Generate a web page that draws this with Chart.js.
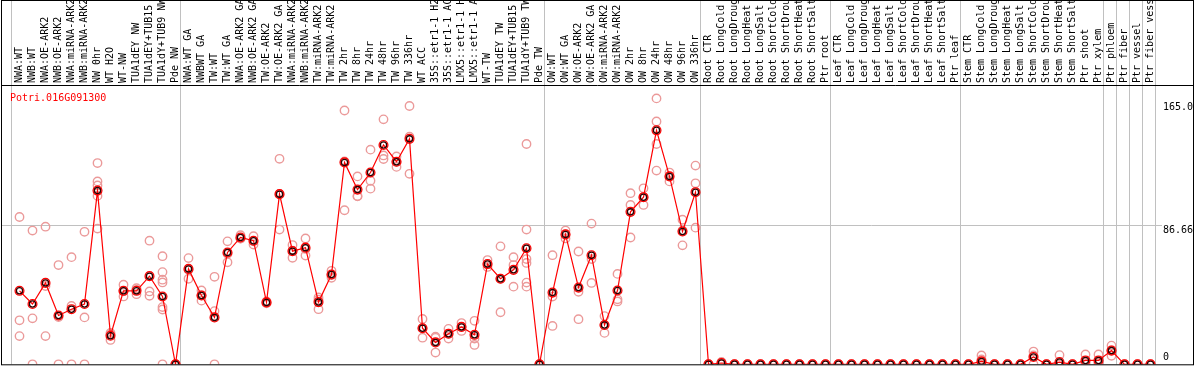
<!DOCTYPE html>
<html>
<head>
<meta charset="utf-8">
<title>Potri.016G091300</title>
<script src="https://cdn.jsdelivr.net/npm/chart.js@4.4.1/dist/chart.umd.min.js"></script>
<style>
    body { margin: 0; background: #fff; }
    #wrap { width: 1194px; height: 370px; }
</style>
</head>
<body>
<div id="wrap"><canvas id="chart" width="1194" height="370"></canvas></div>
<script>
const geneName = "Potri.016G091300";

const categories = [
    "NWA:WT", "NWB:WT", "NWA:OE-ARK2", "NWB:OE-ARK2", "NWA:miRNA-ARK2", "NWB:miRNA-ARK2",
    "NW 0hr", "WT H2O", "WT-NW", "TUA1dEY NW", "TUA1dEY+TUB15 NW", "TUA1dY+TUB9 NW", "Pde NW",
    "NWA:WT GA", "NWBWT GA", "TW:WT", "TW:WT GA", "NWA:OE-ARK2 GA", "NWB:OE-ARK2 GA",
    "TW:OE-ARK2", "TW:OE-ARK2 GA", "NWA:miRNA-ARK2 GA", "NWB:miRNA-ARK2 GA", "TW:miRNA-ARK2",
    "TW:miRNA-ARK2", "TW 2hr", "TW 8hr", "TW 24hr", "TW 48hr", "TW 96hr", "TW 336hr",
    "WT ACC", "35S::etr1-1 H2O", "35S::etr1-1 ACC", "LMX5::etr1-1 H2O", "LMX5::etr1-1 ACC",
    "WT-TW", "TUA1dEY TW", "TUA1dEY+TUB15 TW", "TUA1dY+TUB9 TW", "Pde TW",
    "OW:WT", "OW:WT GA", "OW:OE-ARK2", "OW:OE-ARK2 GA", "OW:miRNA-ARK2", "OW:miRNA-ARK2",
    "OW 2hr", "OW 8hr", "OW 24hr", "OW 48hr", "OW 96hr", "OW 336hr",
    "Root CTR", "Root LongCold", "Root LongDrought", "Root LongHeat", "Root LongSalt",
    "Root ShortCold", "Root ShortDrought", "Root ShortHeat", "Root ShortSalt", "Ptr root",
    "Leaf CTR", "Leaf LongCold", "Leaf LongDrought", "Leaf LongHeat", "Leaf LongSalt",
    "Leaf ShortCold", "Leaf ShortDrought", "Leaf ShortHeat", "Leaf ShortSalt", "Ptr leaf",
    "Stem CTR", "Stem LongCold", "Stem LongDrought", "Stem LongHeat", "Stem LongSalt",
    "Stem ShortCold", "Stem ShortDrought", "Stem ShortHeat", "Stem ShortSalt", "Ptr shoot",
    "Ptr xylem", "Ptr phloem", "Ptr fiber", "Ptr vessel", "Ptr fiber vessel"
];

const means = [
    45.6, 37.4, 50.5, 30.3, 34.2, 37.4, 107.8, 17.7, 45.6, 45.6, 54.7, 42.1, 0,
    59.2, 42.7, 29.1, 69.4, 78.7, 76.7, 38.4, 105.6, 70.2, 72.4, 38.6, 55.7,
    125.3, 108.4, 119.0, 136.1, 125.7, 139.9, 22.4, 13.6, 19.0, 23.2, 18.3,
    62.2, 53.1, 58.6, 72.0, 0,
    44.5, 80.6, 47.6, 67.7, 24.4, 45.8, 94.6, 103.7, 145.2, 116.6, 82.4, 106.8,
    0, 0.8, 0, 0, 0, 0, 0, 0, 0, 0,
    0, 0, 0, 0, 0, 0, 0, 0, 0, 0,
    0, 1.8, 0, 0, 0, 4.5, 0, 1.4, 0, 2.4,
    2.4, 8.5, 0, 0, 0
];

const replicates = [
    [91.4, 27.3, 17.5], [83.0, 28.5, 0], [85.4, 48.6, 17.5], [61.6, 29.3, 0],
    [66.5, 36.2, 0], [82.2, 29.1, 0], [124.9, 113.5, 111.0, 104.5, 84.2],
    [19.5, 18.7, 15.1], [49.4, 45.3, 42.1], [47.2, 46.1, 43.5], [76.7, 45.2, 42.5],
    [67.1, 57.2, 52.5, 50.8, 35.5, 34.0, 0], [0, 0, 0],
    [65.9, 58.6, 53.1], [45.8, 42.8, 39.5], [54.3, 33.0, 0], [76.3, 68.6, 63.3],
    [80.1, 78.1, 78.0], [79.5, 76.3, 74.3], [39.0, 38.4, 37.8], [127.5, 105.7, 83.6],
    [74.0, 70.5, 66.1], [78.1, 71.6, 67.5], [41.5, 40.1, 34.2], [58.0, 55.4, 53.7],
    [157.5, 125.9, 95.6], [116.6, 104.4, 104.2], [133.2, 113.9, 109.0],
    [152.0, 129.6, 127.4], [129.0, 125.6, 122.5], [160.3, 141.2, 118.2],
    [28.1, 22.6, 16.5], [17.1, 16.4, 7.3], [22.0, 19.0, 16.0], [25.6, 23.2, 20.7],
    [27.0, 16.0, 12.0], [64.7, 62.2, 60.4], [73.2, 53.1, 32.3], [66.5, 61.6, 48.2],
    [136.7, 83.6, 65.3, 62.9, 50.7, 48.2], [0, 0, 0],
    [67.7, 42.0, 23.8], [83.0, 80.6, 78.1], [70.0, 45.0, 28.0], [87.3, 65.3, 50.5],
    [29.9, 24.4, 19.5], [56.1, 40.3, 39.0], [106.2, 98.9, 78.7], [109.2, 103.7, 98.9],
    [165.0, 150.7, 136.7, 120.2], [119.0, 116.6, 113.5], [89.7, 83.0, 73.8],
    [123.3, 112.3, 84.8],
    [0, 0, 0], [1.5, 0.8, 0], [0, 0, 0], [0, 0, 0], [0, 0, 0],
    [0, 0, 0], [0, 0, 0], [0, 0, 0], [0, 0, 0], [0, 0, 0],
    [0, 0, 0], [0, 0, 0], [0, 0, 0], [0, 0, 0], [0, 0, 0],
    [0, 0, 0], [0, 0, 0], [0, 0, 0], [0, 0, 0], [0, 0, 0],
    [0, 0, 0], [5.5, 3.0, 0], [0, 0, 0], [0, 0, 0], [0, 0, 0],
    [7.9, 5.5, 0], [0, 0, 0], [5.7, 0, 0], [0, 0, 0], [6.1, 1.0, 0],
    [6.1, 1.0, 0], [11.6, 8.6, 5.3], [0, 0, 0], [0, 0, 0], [0, 0, 0]
];

// columns after which a grey separator is drawn
const groupBreaks = [0, 13, 41, 53, 63, 73, 84, 85, 86, 87, 88];

const yMax = 173.32;
const yTicks = [
    { value: 165.0, text: "165.0", shift: 4, base: "top" },
    { value: 86.66, text: "86.66", shift: 1, base: "top" },
    { value: 0, text: "0", shift: -4, base: "alphabetic" }
];

const monoFont = '10px "DejaVu Sans Mono", monospace';

// one dataset per replicate slot, aligned with the categories
const maxReps = Math.max(...replicates.map(r => r.length));
const repDatasets = [];
for (let j = 0; j < maxReps; j++) {
    repDatasets.push({
        label: "rep " + (j + 1),
        data: replicates.map(r => (j < r.length ? r[j] : null)),
        showLine: false,
        pointRadius: 4.2,
        pointBorderWidth: 1.4,
        pointBorderColor: "#eb9a9a",
        pointBackgroundColor: "rgba(0,0,0,0)",
        order: 2
    });
}

const frame = {
    id: "frame",
    beforeDatasetsDraw(chart) {
        const ctx = chart.ctx;
        const xs = chart.scales.x;
        const ys = chart.scales.y;
        const colW = (xs.right - xs.left) / categories.length;

        ctx.save();
        ctx.strokeStyle = "#c0c0c0";
        ctx.lineWidth = 1;
        const gy = Math.round(ys.getPixelForValue(86.66)) + 0.5;
        ctx.beginPath();
        ctx.moveTo(1, gy);
        ctx.lineTo(xs.right + 5, gy);
        groupBreaks.forEach(k => {
            const gx = Math.round(xs.left + k * colW - 2.5) + 0.5;
            ctx.moveTo(gx, 0);
            ctx.lineTo(gx, ys.bottom);
        });
        ctx.stroke();
        ctx.restore();
    },
    afterDraw(chart) {
        const ctx = chart.ctx;
        const xs = chart.scales.x;
        const ys = chart.scales.y;

        // rotated column labels in the header
        ctx.save();
        ctx.beginPath();
        ctx.rect(2, 1, chart.width - 3, ys.top - 1);
        ctx.clip();
        ctx.font = monoFont;
        ctx.fillStyle = "#000";
        ctx.textAlign = "left";
        ctx.textBaseline = "alphabetic";
        categories.forEach((label, i) => {
            ctx.save();
            ctx.translate(xs.getPixelForValue(i) + 2.5, ys.top - 2);
            ctx.rotate(-Math.PI / 2);
            ctx.fillText(label, 0, 0);
            ctx.restore();
        });
        ctx.restore();

        ctx.save();
        ctx.font = monoFont;
        ctx.fillStyle = "#ff0000";
        ctx.textBaseline = "alphabetic";
        ctx.fillText(geneName, 10, ys.top + 16);

        ctx.fillStyle = "#000";
        yTicks.forEach(t => {
            ctx.textBaseline = t.base;
            ctx.fillText(t.text, xs.right + 6, ys.getPixelForValue(t.value) + t.shift);
        });

        ctx.strokeStyle = "#000";
        ctx.lineWidth = 1;
        ctx.strokeRect(1.5, 0.5, chart.width - 2, ys.bottom);
        ctx.beginPath();
        ctx.moveTo(1, ys.top + 0.5);
        ctx.lineTo(chart.width, ys.top + 0.5);
        ctx.stroke();
        ctx.restore();
    }
};

new Chart(document.getElementById("chart"), {
    type: "line",
    data: {
        labels: categories,
        datasets: [
            {
                label: "mean ring",
                data: means,
                showLine: false,
                pointRadius: 3.1,
                pointBorderWidth: 1.3,
                pointBorderColor: "#2a0000",
                pointBackgroundColor: "rgba(0,0,0,0)",
                order: 0
            },
            {
                label: "mean",
                data: means,
                borderColor: "#ff0000",
                borderWidth: 1.2,
                tension: 0,
                pointRadius: 4.4,
                pointBorderWidth: 1.3,
                pointBorderColor: "#ff0000",
                pointBackgroundColor: "rgba(0,0,0,0)",
                order: 1
            },
            ...repDatasets
        ]
    },
    options: {
        responsive: false,
        animation: false,
        devicePixelRatio: 1,
        layout: { padding: { left: 13, right: 37, top: 85, bottom: 1 } },
        scales: {
            x: { type: "category", offset: true, display: false },
            y: { min: 0, max: yMax, display: false }
        },
        plugins: {
            legend: { display: false },
            tooltip: { enabled: false }
        }
    },
    plugins: [frame]
});
</script>
</body>
</html>
